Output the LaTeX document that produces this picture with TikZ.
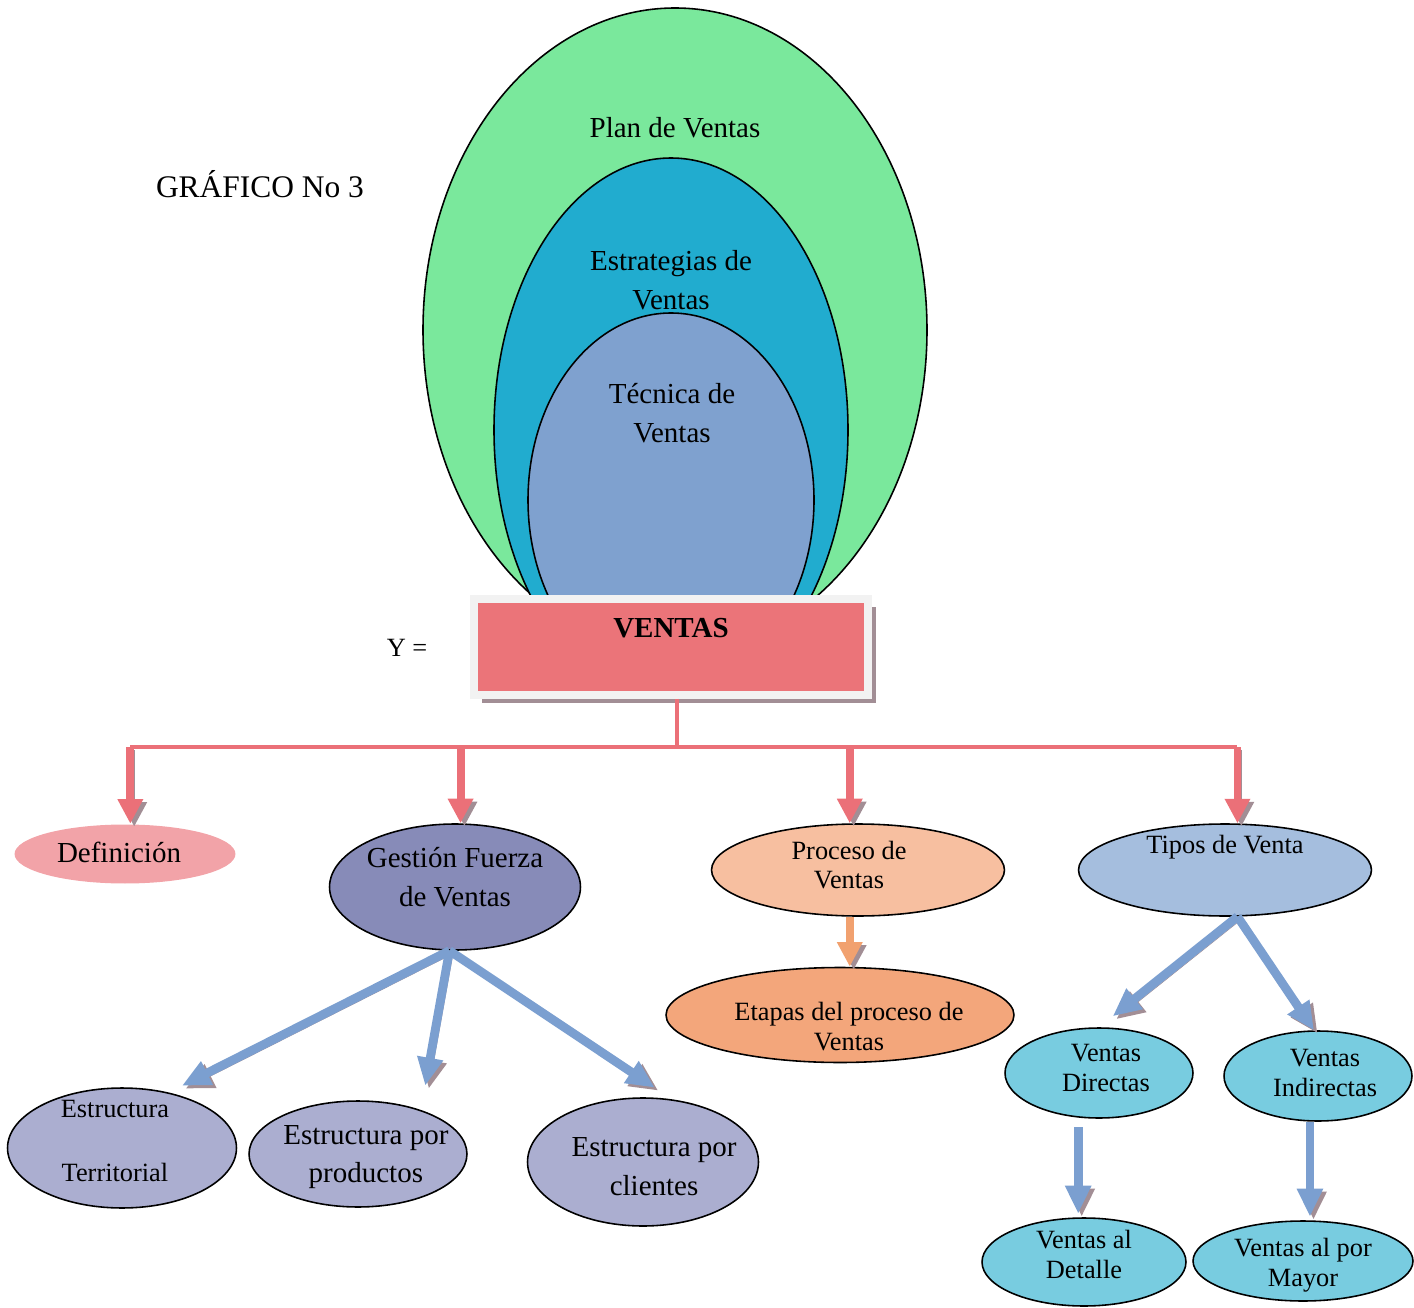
\documentclass[tikz,border=0pt]{standalone}
\usepackage{fontspec}
\setmainfont{Liberation Serif}
\usetikzlibrary{arrows.meta, shapes.geometric, shadows}

\definecolor{plangreen}{HTML}{7AE89C}
\definecolor{estrateal}{HTML}{21ACCF}
\definecolor{tecblue}{HTML}{7FA1CF}
\definecolor{ventasred}{HTML}{EB7479}
\definecolor{boxgray}{HTML}{F2F2F2}
\definecolor{shadowgray}{HTML}{A28E95}
\definecolor{linkred}{HTML}{EB7078}
\definecolor{defpink}{HTML}{F2A3A8}
\definecolor{gestpurple}{HTML}{878BB8}
\definecolor{procpeach}{HTML}{F7BFA0}
\definecolor{etaporange}{HTML}{F3A67B}
\definecolor{linkorange}{HTML}{F1A16F}
\definecolor{tiposblue}{HTML}{A5BEDE}
\definecolor{estlav}{HTML}{ABAED0}
\definecolor{ventcyan}{HTML}{78CCE0}
\definecolor{linkblue}{HTML}{7B9FD0}

\newcommand{\lgfont}{\fontsize{16.5}{22}\selectfont}
\newcommand{\smfont}{\fontsize{15}{17}\selectfont}

\begin{document}
\begin{tikzpicture}[
    x=0.02cm, y=-0.02cm,
    oval/.style={
        ellipse, draw=black, line width=0.9pt, inner sep=0pt,
    },
    txt/.style={align=center, font=\lgfont},
    smtxt/.style={align=center, font=\smfont},
    ventasbox/.style={
        rectangle, fill=ventasred, draw=boxgray, line width=4.5pt,
        minimum width=7.88cm, minimum height=1.92cm,
        font=\lgfont\bfseries, align=center,
        drop shadow={shadow xshift=4.5pt, shadow yshift=-4.5pt,
            fill=shadowgray, opacity=1},
    },
    redline/.style={line width=2.8pt, draw=linkred},
    redflow/.style={
        line width=4.5pt, draw=linkred,
        -{Triangle[width=13.7pt, length=14pt]},
        preaction={draw=shadowgray, transform canvas={shift={(2.2pt,-1.7pt)}}},
    },
    orangeflow/.style={redflow, draw=linkorange},
    blueflow/.style={
        line width=5pt, draw=linkblue,
        -{Triangle[width=14pt, length=16pt]},
        preaction={draw=shadowgray, transform canvas={shift={(2pt,-1.7pt)}}},
    },
]
\useasboundingbox (0,0) rectangle (1414,1308);

% --- Nested ovals ---
\draw[fill=plangreen, line width=0.9pt] (675,330) ellipse [x radius=252, y radius=322];
\draw[fill=estrateal, line width=0.9pt] (671,430) ellipse [x radius=177, y radius=272];
\draw[fill=tecblue, line width=0.9pt] (671,500) ellipse [x radius=143, y radius=187];
\node[txt] (plan) at (675,128) {Plan de Ventas};
\node[txt] (estrategias) at (671,280) {Estrategias de\\Ventas};
\node[txt] (tecnica) at (672,413) {Técnica de\\Ventas};

% --- Titles ---
\node[font=\fontsize{17.9}{20}\selectfont] (titulo) at (260,184) {GRÁFICO No 3};
\node[font=\smfont] (yeq) at (407,648) {Y =};

% --- Main box ---
\node[ventasbox] (ventas) at (671,647) {VENTAS\\\mbox{}};

% --- First level ---
\node[oval, fill=defpink, draw=none, minimum width=4.42cm, minimum height=1.18cm,
    label={[txt, xshift=-3.4pt, yshift=1pt]center:Definición}] (defin) at (125,854) {};
\node[oval, fill=gestpurple, minimum width=5.02cm, minimum height=2.52cm,
    label={[txt, yshift=5.7pt]center:Gestión Fuerza\\de Ventas}] (gestion) at (455,887) {};
\node[oval, fill=procpeach, minimum width=5.86cm, minimum height=1.84cm,
    label={[smtxt, xshift=-5.1pt, yshift=2.8pt]center:Proceso de\\Ventas}] (proceso) at (858,870) {};
\node[oval, fill=tiposblue, minimum width=5.86cm, minimum height=1.84cm,
    label={[smtxt, yshift=13pt]center:Tipos de Venta}] (tipos) at (1225,870) {};

% --- Second level ---
\node[oval, fill=etaporange, minimum width=6.96cm, minimum height=1.9cm,
    label={[smtxt, xshift=5.1pt, yshift=-6.5pt]center:Etapas del proceso de\\Ventas}] (etapas) at (840,1015) {};
\node[oval, fill=estlav, minimum width=4.58cm, minimum height=2.4cm,
    label={[smtxt, xshift=-4pt, yshift=4pt]center:Estructura\\[19pt]Territorial}] (territorial) at (122,1148) {};
\node[oval, fill=estlav, minimum width=4.36cm, minimum height=2.12cm,
    label={[txt, xshift=4.5pt, yshift=-1.7pt]center:Estructura por\\productos}] (productos) at (358,1154) {};
\node[oval, fill=estlav, minimum width=4.62cm, minimum height=2.56cm,
    label={[txt, xshift=6.3pt, yshift=-2.8pt]center:Estructura por\\clientes}] (clientes) at (643,1162) {};
\node[oval, fill=ventcyan, minimum width=3.76cm, minimum height=1.8cm,
    label={[smtxt, xshift=4pt, yshift=2.8pt]center:Ventas\\Directas}] (directas) at (1099,1073) {};
\node[oval, fill=ventcyan, minimum width=3.76cm, minimum height=1.8cm,
    label={[smtxt, xshift=4pt, yshift=1.7pt]center:Ventas\\Indirectas}] (indirectas) at (1318,1076) {};

% --- Third level ---
\node[oval, fill=ventcyan, minimum width=4.08cm, minimum height=1.76cm,
    label={[smtxt, yshift=4.5pt]center:Ventas al\\Detalle}] (detalle) at (1084,1262) {};
\node[oval, fill=ventcyan, minimum width=4.4cm, minimum height=1.6cm,
    label={[smtxt, yshift=-2.3pt]center:Ventas al por\\Mayor}] (mayor) at (1303,1261) {};

% --- Red bus and arrows ---
\coordinate (bus) at (0,747);
\draw[redline] ([xshift=3.4pt]ventas.south) -- ([xshift=3.4pt]ventas.south |- bus);
\draw[redline] (defin.80 |- bus) -- (tipos.75 |- bus);
\foreach \n/\a in {defin/80, gestion/85, proceso/100, tipos/75}
    \draw[redflow] (\n.\a |- bus) -- (\n.\a);

% --- Lower arrows ---
\draw[orangeflow] (proceso.-100) -- (proceso.-100 |- etapas.north);
\draw[blueflow, shorten >=8.5pt] (gestion.-95) -- (territorial.50);
\draw[blueflow, shorten >=14pt] (gestion.-95) -- (productos.35);
\draw[blueflow, shorten >=12pt] (gestion.-95) -- (clientes.65);
\draw[blueflow, shorten >=10pt] (tipos.-75) -- (directas.north);
\draw[blueflow] (tipos.-75) -- (indirectas.95);
\draw[blueflow, shorten <=5.5pt, shorten >=2pt] (directas.-115) -- (directas.-115 |- detalle.north);
\draw[blueflow, shorten >=2pt] (indirectas.-100) -- (indirectas.-100 |- mayor.north);

\end{tikzpicture}
\end{document}
